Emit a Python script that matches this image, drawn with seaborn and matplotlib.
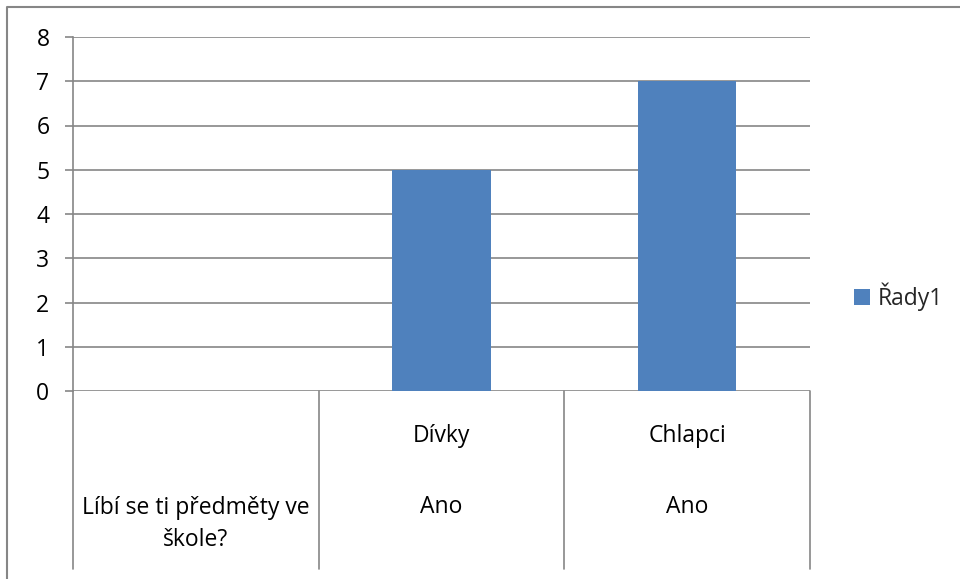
import numpy as np
import pandas as pd
import seaborn as sns
import matplotlib.pyplot as plt
from matplotlib.lines import Line2D
from matplotlib.patches import Patch

# data
categories = ["Líbí se ti předměty ve\nškole?", "Dívky", "Chlapci"]
top_labels = ["", "Dívky", "Chlapci"]
bottom_labels = ["Líbí se ti předměty ve\nškole?", "Ano", "Ano"]
values = [np.nan, 5, 7]
series_name = "Řady1"

bar_color = "#4F81BD"
grid_color = "#868686"
fs = 16.5

sns.set_theme(style="white")
plt.rcParams['font.family'] = ['Open Sans', 'DejaVu Sans']

df = pd.DataFrame({"cat": categories, "val": values})

fig = plt.figure(figsize=(9.6, 5.79), dpi=100)
ax = fig.add_axes([73 / 960, 1 - 391 / 579, (810 - 73) / 960, (391 - 37) / 579])

sns.barplot(data=df, x="cat", y="val", color=bar_color, width=0.4,
            saturation=1, linewidth=0, ax=ax, order=categories)

ax.set_xlim(-0.5, len(categories) - 0.5)
ax.set_ylim(0, 8)
ax.set_yticks(range(0, 9))
ax.yaxis.grid(True, color=grid_color, linewidth=1.2)
ax.set_axisbelow(True)
ax.set_xlabel("")
ax.set_ylabel("")
ax.set_xticks([])
for side in ["top", "right", "bottom"]:
    ax.spines[side].set_visible(False)
ax.spines["left"].set_color(grid_color)
ax.spines["left"].set_linewidth(1.2)
ax.tick_params(axis="y", left=True, length=6, width=1.2, color=grid_color,
               labelsize=fs, labelcolor="black", pad=11)

# multi-level category axis
trans = ax.get_xaxis_transform()
for i in range(len(categories) + 1):
    ax.add_line(Line2D([i - 0.5, i - 0.5], [0, -0.503], transform=trans,
                       color=grid_color, linewidth=1.2, clip_on=False))
for i, (t, b) in enumerate(zip(top_labels, bottom_labels)):
    if t:
        ax.text(i, -0.127, t, transform=trans, ha="center", va="center",
                fontsize=fs, color="black")
        ax.text(i, -0.328, b, transform=trans, ha="center", va="center",
                fontsize=fs, color="black")
    else:
        ax.text(i, -0.376, b, transform=trans, ha="center", va="center",
                fontsize=fs, color="black", linespacing=1.42)

# legend
handle = Patch(facecolor=bar_color, edgecolor="none")
fig.legend([handle], [series_name], loc="center left",
           bbox_to_anchor=(843 / 960, 1 - 297 / 579), frameon=False,
           fontsize=fs, handlelength=0.68, handleheight=0.68,
           handletextpad=0.35, borderpad=0)

# outer chart border (left and top edges visible)
fig.add_artist(Line2D([7 / 960, 7 / 960, 1.0], [0.0, 1 - 7 / 579, 1 - 7 / 579],
                      transform=fig.transFigure, color=grid_color, linewidth=1.5))

fig.savefig("out.png", dpi=100)
